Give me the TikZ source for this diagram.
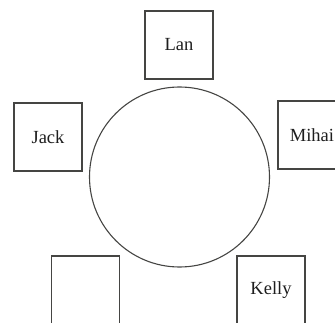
\documentclass[tikz,border=0pt]{standalone}
\usepackage{fontspec}
\setmainfont{Liberation Serif}
\usepackage{tikz}
\definecolor{lineGray}{HTML}{454543}
\definecolor{textGray}{HTML}{1E1E1E}
\tikzset{
  seat/.style={draw=lineGray, line width=1.1pt, minimum size=68pt, inner sep=0pt,
    text=textGray, font=\fontsize{18.5}{22}\selectfont},
  roundtable/.style={draw=lineGray, line width=1.1pt, circle, minimum size=180pt, inner sep=0pt}
}
\begin{document}
\begin{tikzpicture}[x=1pt,y=1pt]
\path[use as bounding box, clip] (0,0) rectangle (335,322);
\node[roundtable] (table) at (179.5,145) {};
\node[seat] (lan) at (179,277) {Lan};
\node[seat] (jack) at (48,185) {Jack};
\node[seat] (mihai) at (312,187) {Mihai};
\node[seat] (empty) at (85.5,32) {};
\node[seat] (kelly) at (271,32) {Kelly};
\end{tikzpicture}
\end{document}
